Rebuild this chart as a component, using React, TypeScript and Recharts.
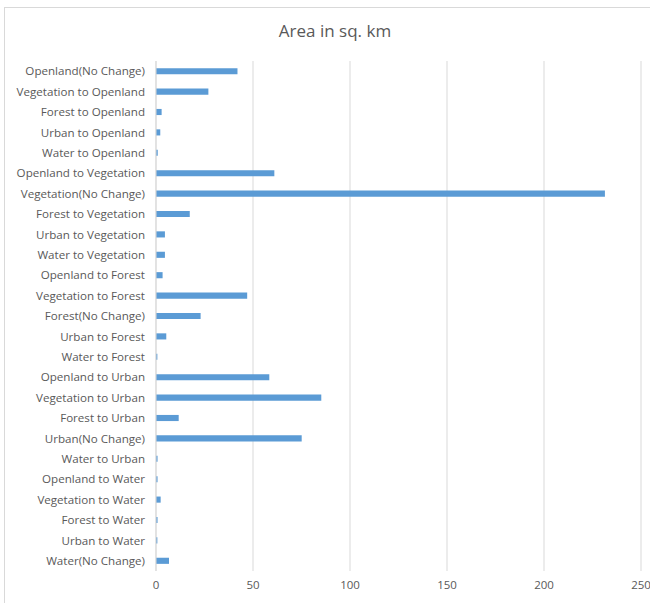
import React from 'react';
import { BarChart, Bar, XAxis, YAxis, CartesianGrid } from 'recharts';

// Categories, top to bottom as they appear in the chart
const categories = [
  'Openland(No Change)',
  'Vegetation to Openland',
  'Forest to Openland',
  'Urban to Openland',
  'Water to Openland',
  'Openland to Vegetation',
  'Vegetation(No Change)',
  'Forest to Vegetation',
  'Urban to Vegetation',
  'Water to Vegetation',
  'Openland to Forest',
  'Vegetation to Forest',
  'Forest(No Change)',
  'Urban to Forest',
  'Water to Forest',
  'Openland to Urban',
  'Vegetation to Urban',
  'Forest to Urban',
  'Urban(No Change)',
  'Water to Urban',
  'Openland to Water',
  'Vegetation to Water',
  'Forest to Water',
  'Urban to Water',
  'Water(No Change)',
];

// Area in sq. km
const areaValues = [
  42, 27, 2.9, 2.2, 0.9, 61, 231.4, 17.4, 4.6, 4.6, 3.4, 47, 23, 5.3, 0.7,
  58.4, 85.2, 11.7, 75.1, 0.8, 0.8, 2.4, 0.8, 0.7, 6.7,
];

const xTicks = [0, 50, 100, 150, 200, 250];

const chartData = categories.map((name, i) => ({ name, area: areaValues[i] }));

const labelFont = '"Open Sans", "Liberation Sans", sans-serif';

const App: React.FC = () => {
  return (
    <div style={{ position: 'absolute', left: 0, top: 0, width: 650, height: 603, background: '#fff', overflow: 'hidden' }}>
      <div
        style={{
          position: 'absolute',
          left: 4,
          top: 7,
          width: 660,
          height: 610,
          border: '1px solid #d9d9d9',
          boxSizing: 'border-box',
        }}
      />
      <div
        style={{
          position: 'absolute',
          left: 0,
          top: 19,
          width: 670,
          textAlign: 'center',
          fontFamily: labelFont,
          fontSize: 17,
          color: '#595959',
        }}
      >
        Area in sq. km
      </div>
      <div style={{ position: 'absolute', left: 0, top: 0 }}>
        <BarChart
          width={650}
          height={603}
          data={chartData}
          layout="vertical"
          margin={{ top: 61, right: 9, left: 0, bottom: 12 }}
          barCategoryGap="65%"
        >
          <CartesianGrid horizontal={false} vertical={true} stroke="#d9d9d9" />
          <XAxis
            type="number"
            domain={[0, 250]}
            ticks={xTicks}
            axisLine={false}
            tickLine={false}
            tickSize={0}
            tickMargin={10}
            height={20}
            tick={{ fontSize: 11.5, fill: '#595959', fontFamily: labelFont }}
          />
          <YAxis
            type="category"
            dataKey="name"
            width={156}
            interval={0}
            axisLine={{ stroke: '#d9d9d9' }}
            tickLine={false}
            tickSize={0}
            tickMargin={11}
            tick={{ fontSize: 11.6, fill: '#595959', fontFamily: labelFont }}
          />
          <Bar dataKey="area" fill="#5b9bd5" isAnimationActive={false} />
        </BarChart>
      </div>
    </div>
  );
};

export default App;
